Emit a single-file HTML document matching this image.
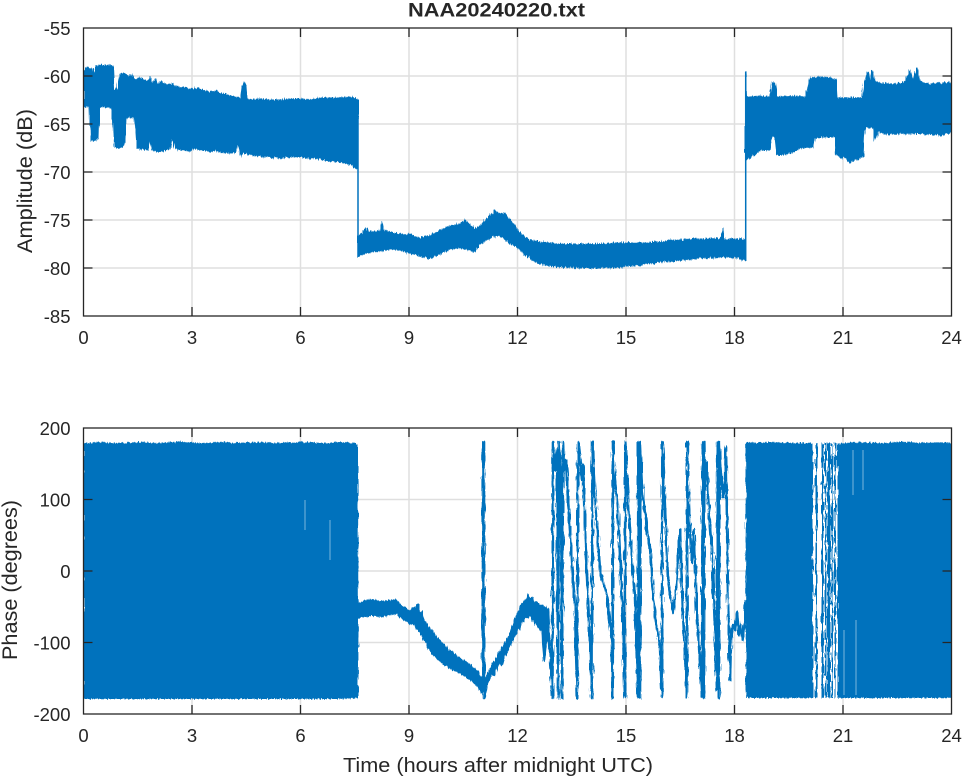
<!DOCTYPE html>
<html>
<head>
<meta charset="utf-8">
<style>
html,body{margin:0;padding:0;background:#fff;}
svg{display:block;}
text{font-family:"Liberation Sans",Arial,sans-serif;fill:#262626;}
</style>
</head>
<body>
<svg width="964" height="778" viewBox="0 0 964 778" xmlns="http://www.w3.org/2000/svg">
<defs>
<clipPath id="c1"><rect x="83.5" y="28" width="868" height="288"/></clipPath>
<clipPath id="c2"><rect x="83.5" y="428" width="868" height="286"/></clipPath>
<filter id="jag" filterUnits="userSpaceOnUse" x="0" y="0" width="964" height="778">
<feTurbulence type="fractalNoise" baseFrequency="0.9 0.04" numOctaves="2" seed="3" result="n"/>
<feDisplacementMap in="SourceGraphic" in2="n" scale="5" xChannelSelector="B" yChannelSelector="G"/>
</filter>
<filter id="jag2" filterUnits="userSpaceOnUse" x="0" y="0" width="964" height="778">
<feTurbulence type="fractalNoise" baseFrequency="0.7 0.08" numOctaves="2" seed="7" result="n"/>
<feDisplacementMap in="SourceGraphic" in2="n" scale="4" xChannelSelector="B" yChannelSelector="G"/>
</filter>
</defs>
<rect width="964" height="778" fill="#fff"/>

<!-- ===== TOP AXES ===== -->
<g stroke="#dfdfdf" stroke-width="1.5" fill="none">
<line x1="192" y1="28" x2="192" y2="316"/><line x1="300.5" y1="28" x2="300.5" y2="316"/>
<line x1="409" y1="28" x2="409" y2="316"/><line x1="517.5" y1="28" x2="517.5" y2="316"/>
<line x1="626" y1="28" x2="626" y2="316"/><line x1="734.5" y1="28" x2="734.5" y2="316"/>
<line x1="843" y1="28" x2="843" y2="316"/>
<line x1="83.5" y1="76" x2="951.5" y2="76"/><line x1="83.5" y1="124" x2="951.5" y2="124"/>
<line x1="83.5" y1="172" x2="951.5" y2="172"/><line x1="83.5" y1="220" x2="951.5" y2="220"/>
<line x1="83.5" y1="268" x2="951.5" y2="268"/>
</g>

<g clip-path="url(#c1)">
<g filter="url(#jag)" fill="#0072bd" stroke="#0072bd" stroke-width="1" stroke-linejoin="round">
<polygon points="83.5,70 86,67 90,68 93,69 94,75 96,67 100,65 105,65.5 110,66 113,67 114,88 117,90 120,74 124,73 128,76 132,75 134,79 136,80 140,78 145,80 148,82 150,77 153,83 156,79 158,85 160,82 162,81 165,84 170,85 172,82 175,86 180,87 185,87 190,89 195,88 200,89 205,91 210,92 215,91 220,93 225,94 230,96 235,97 240,98 242,86 244,83 246,86 247,99 252,100 260,99 270,100 280,100 290,99 300,99 310,100 320,98 330,98 340,98 350,97 357,99 358,100 358,170 355,167 350,164 345,163 340,162 330,161 320,159 310,158 300,157 290,157 280,158 270,157 260,156 250,155 243,153 240,156 238,142 236,152 230,153 220,152 215,150 210,152 205,150 200,150 195,148 190,151 185,150 180,150 175,148 172,136 170,149 165,150 160,152 156,151 152,150 150,138 148,150 144,149 140,149 137,148 135,118 130,117 126,118 125,140 123,147 118,148 114,146 113,120 112,107 105,107 100,107 99,138 94,142 91,140 90,107 83.5,106"/>
<polygon points="358,236 362,233 366,228 370,232 380,231 382,221 384,231 390,232 400,234 410,235 420,238 430,236 440,230 450,226 460,224 465,220 470,225 475,229 480,226 490,216 494,211 497,212 500,213 505,214 510,220 515,226 520,233 525,238 530,240 540,242 560,244 580,244 600,244 620,243 640,243 660,242 680,240 700,239 720,239 723,228 725,239 740,239 745,240 745,261 740,258 720,257 700,258 680,260 660,262 640,265 620,267 600,268 580,268 560,267 545,265 535,262 525,254 518,248 510,243 503,238 497,235 490,238 480,244 475,252 470,250 460,248 450,249 440,254 430,258 420,256 410,253 400,250 390,249 380,251 370,252 362,255 358,257"/>
<polygon points="746,72 747,97 760,96 770,97 772,82 775,83 777,97 790,96 806,97 810,78 820,77 830,78 836,80 837,98 850,98 862,98 864,82 868,72 870,82 872,70 875,82 880,83 895,84 905,82 910,70 913,80 917,68 920,82 930,84 945,83 951,82 952,82 952,133 940,135 925,134 910,133 895,134 880,133 878,127 877,135 875,140 873,128 866,127 864,135 863,157 855,160 850,162 845,158 840,157 836,155 835,137 825,137 815,137 813,147 800,148 797,150 790,153 780,155 777,155 775,137 772,137 770,150 760,150 750,158 746,160"/>
</g>
<g stroke="#0072bd" stroke-width="1.5">
<line x1="358" y1="100" x2="358" y2="257"/>
<line x1="745.7" y1="261" x2="745.7" y2="72"/>
</g>
</g>

<g stroke="#262626" stroke-width="1.3" fill="none">
<rect x="83.5" y="28" width="868" height="288"/>
<path d="M192,28v9M300.5,28v9M409,28v9M517.5,28v9M626,28v9M734.5,28v9M843,28v9
M192,316v-9M300.5,316v-9M409,316v-9M517.5,316v-9M626,316v-9M734.5,316v-9M843,316v-9
M83.5,76h9M83.5,124h9M83.5,172h9M83.5,220h9M83.5,268h9
M951.5,76h-9M951.5,124h-9M951.5,172h-9M951.5,220h-9M951.5,268h-9"/>
</g>

<g font-size="18.5" text-anchor="end">
<text x="70.5" y="35">-55</text><text x="70.5" y="83">-60</text><text x="70.5" y="131">-65</text>
<text x="70.5" y="179">-70</text><text x="70.5" y="227">-75</text><text x="70.5" y="275">-80</text>
<text x="70.5" y="323">-85</text>
</g>
<g font-size="18.5" text-anchor="middle">
<text x="83.5" y="344">0</text><text x="192" y="344">3</text><text x="300.5" y="344">6</text>
<text x="409" y="344">9</text><text x="517.5" y="344">12</text><text x="626" y="344">15</text>
<text x="734.5" y="344">18</text><text x="843" y="344">21</text><text x="951.5" y="344">24</text>
</g>
<text x="496.5" y="16.7" font-size="19" font-weight="bold" text-anchor="middle" textLength="177" lengthAdjust="spacingAndGlyphs">NAA20240220.txt</text>
<text transform="translate(32,181) rotate(-90)" font-size="21.5" text-anchor="middle" textLength="144" lengthAdjust="spacingAndGlyphs">Amplitude (dB)</text>

<!-- ===== BOTTOM AXES ===== -->
<g stroke="#dfdfdf" stroke-width="1.5" fill="none">
<line x1="192" y1="428" x2="192" y2="714"/><line x1="300.5" y1="428" x2="300.5" y2="714"/>
<line x1="409" y1="428" x2="409" y2="714"/><line x1="517.5" y1="428" x2="517.5" y2="714"/>
<line x1="626" y1="428" x2="626" y2="714"/><line x1="734.5" y1="428" x2="734.5" y2="714"/>
<line x1="843" y1="428" x2="843" y2="714"/>
<line x1="83.5" y1="499.5" x2="951.5" y2="499.5"/><line x1="83.5" y1="571" x2="951.5" y2="571"/>
<line x1="83.5" y1="642.5" x2="951.5" y2="642.5"/>
</g>

<g clip-path="url(#c2)">
<g filter="url(#jag2)" fill="#0072bd">
<polygon points="83.5,443 100,442 120,443 140,442 160,443 180,442 200,443 220,442 240,443 260,442 280,443 300,442 320,443 340,442 356,443 358,446 358.5,698 340,699 320,699 300,699 280,699 260,699 240,699 220,699 200,699 180,699 160,699 140,699 120,699 100,699 83.5,699"/>
<polygon points="745.7,443 770,442 790,443 813,443 813,698 790,698 770,698 745.7,698"/>
<polygon points="839.5,443 860,442 880,443 900,442 920,443 940,442 952,443 952,698 930,698 910,698 890,698 870,698 850,698 839.5,698"/>
<polygon points="358,603 365,600 372,599 380,601 390,600 396,599 402,606 410,610 415,606 420,612 425,620 430,628 440,640 450,650 460,657 470,664 478,672 483,678 486,676 492,664 500,650 508,636 515,618 520,606 525,599 530,597 535,601 540,604 545,606 549,610 549,640 545,642 540,630 535,624 530,617 525,619 520,627 515,637 508,651 500,664 492,675 486,688 481,694 478,688 470,680 460,674 450,669 440,662 430,652 425,643 420,633 415,626 410,623 402,619 396,614 390,615 380,617 372,616 365,617 358,619"/>
<rect x="815.5" y="443" width="2" height="255"/>
<rect x="821.5" y="443" width="2" height="255"/>
<rect x="825" y="443" width="1.5" height="255"/>
<rect x="827.5" y="443" width="3" height="255"/>
<rect x="831.5" y="443" width="1.5" height="255"/>
<rect x="834.5" y="443" width="1.5" height="255"/>
<rect x="837.5" y="443" width="2" height="255"/>
</g>
<g stroke="#ffffff" stroke-width="0.8" opacity="0.6">
<line x1="305" y1="500" x2="305" y2="530"/><line x1="330" y1="520" x2="330" y2="560"/>
<line x1="853" y1="450" x2="853" y2="495"/><line x1="863" y1="450" x2="863" y2="490"/>
<line x1="844" y1="630" x2="844" y2="695"/><line x1="856" y1="620" x2="856" y2="695"/>
</g>
<polyline filter="url(#jag2)" fill="none" stroke="#0072bd" stroke-width="2.6" stroke-linejoin="round" points="358,610 362,612 366,604 368,616 372,608 376,614 380,606 384,612 388,608 392,612 396,605 400,612 404,620 408,618 410,624 412,608 414,618 416,620 418,605 420,630 422,612 424,640 426,625 428,645 432,635 435,650 438,640 442,655 446,648 450,662 454,655 458,668 462,660 466,672 470,665 474,678 478,672 481,690 483,680 483,442 484,442 484,698 486,685 490,672 494,675 498,660 502,664 506,650 510,640 514,632 517,622 520,615 523,605 526,612 528,595 530,610 532,598 535,615 537,605 540,625 542,612 544,660 546,640 548,610 550,650 552.5,698 553,442 555,470 557,450 558,698 559,442 561,480 562,698 563,442 564,470 566,460 568,500 570,530 572,560 575,610 576,650 577.3,698 578,442 580,460 582,480 583,465 585,530 588,600 590,643 592,698 592.5,442 593,463 600,570 607,597 612,643 612.7,698 613,442 613.5,463 618,513 622,597 625,697 625.3,442 626,463 628,497 632,563 635,597 638,697 638.3,442 639,470 640,698 640.3,442 640.5,447 643,497 647,530 650,547 653,597 657,630 660,647 662,697 662.3,442 663,463 666,530 668,580 673,613 677,580 680,530 683,613 687,697 687.3,442 688,497 692,563 694,530 697,613 700,663 702,697 702.7,442 703,470 704,698 704.3,442 705,480 707,463 708,497 712,547 713,580 715,630 717,690 717.7,442 718,470 719,698 719.3,442 720,463 723,497 725,480 726,447 727,520 728,600 730,680 731,640 733,625 735,630 737,612 739,635 741,625 743,640 745,620 746,600"/>
</g>

<g stroke="#262626" stroke-width="1.3" fill="none">
<rect x="83.5" y="428" width="868" height="286"/>
<path d="M192,428v9M300.5,428v9M409,428v9M517.5,428v9M626,428v9M734.5,428v9M843,428v9
M192,714v-9M300.5,714v-9M409,714v-9M517.5,714v-9M626,714v-9M734.5,714v-9M843,714v-9
M83.5,499.5h9M83.5,571h9M83.5,642.5h9
M951.5,499.5h-9M951.5,571h-9M951.5,642.5h-9"/>
</g>

<g font-size="18.5" text-anchor="end">
<text x="70.5" y="435">200</text><text x="70.5" y="506.5">100</text><text x="70.5" y="578">0</text>
<text x="70.5" y="649.5">-100</text><text x="70.5" y="721">-200</text>
</g>
<g font-size="18.5" text-anchor="middle">
<text x="83.5" y="742">0</text><text x="192" y="742">3</text><text x="300.5" y="742">6</text>
<text x="409" y="742">9</text><text x="517.5" y="742">12</text><text x="626" y="742">15</text>
<text x="734.5" y="742">18</text><text x="843" y="742">21</text><text x="951.5" y="742">24</text>
</g>
<text x="498" y="772" font-size="20.5" text-anchor="middle" textLength="310" lengthAdjust="spacingAndGlyphs">Time (hours after midnight UTC)</text>
<text transform="translate(17,580) rotate(-90)" font-size="21.5" text-anchor="middle" textLength="160" lengthAdjust="spacingAndGlyphs">Phase (degrees)</text>
</svg>
</body>
</html>
